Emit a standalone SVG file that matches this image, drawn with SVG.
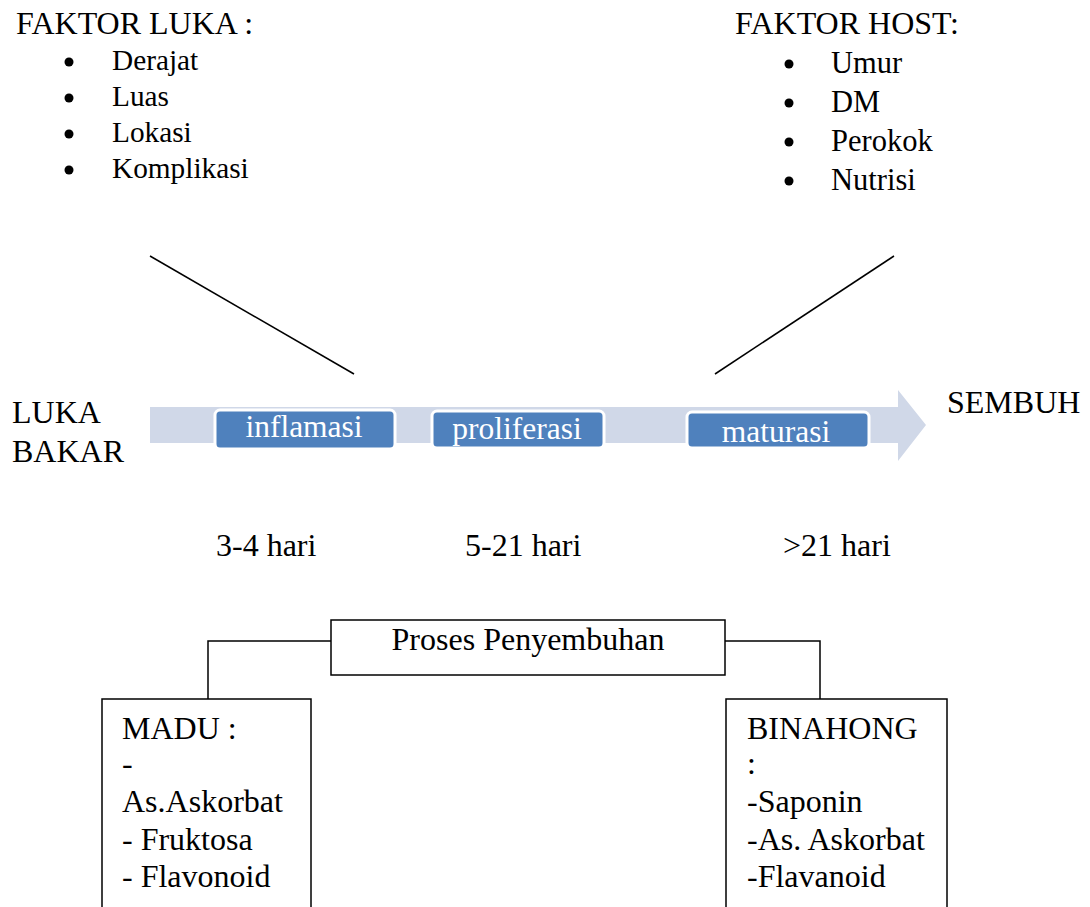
<svg xmlns="http://www.w3.org/2000/svg" width="1090" height="907" viewBox="0 0 1090 907">
<style>
.t{font-family:"Liberation Serif","Times New Roman",serif;font-size:32px;fill:#000}
.tl{font-family:"Liberation Serif","Times New Roman",serif;font-size:29.3px;fill:#000}
.tr{font-family:"Liberation Serif","Times New Roman",serif;font-size:30.5px;fill:#000}
.tc{font-family:"Liberation Serif","Times New Roman",serif;font-size:31.5px;fill:#fff;text-anchor:middle}
.chev{fill:#4f81bd;stroke:#fff;stroke-width:3}
.box{fill:#fff;stroke:#000;stroke-width:1.5}
.ln{fill:none;stroke:#000;stroke-width:1.5}
</style>
<rect width="1090" height="907" fill="#fff"/>
<g id="faktor-luka">
<text class="t" x="16" y="34">FAKTOR LUKA :</text>
<circle cx="69" cy="62" r="4.5"/><text class="tl" x="112" y="70">Derajat</text>
<circle cx="69" cy="98" r="4.5"/><text class="tl" x="112" y="106">Luas</text>
<circle cx="69" cy="134" r="4.5"/><text class="tl" x="112" y="142">Lokasi</text>
<circle cx="69" cy="170" r="4.5"/><text class="tl" x="112" y="178">Komplikasi</text>
</g>
<g id="faktor-host">
<text class="t" x="735" y="34">FAKTOR HOST:</text>
<circle cx="789" cy="64" r="4.5"/><text class="tr" x="831" y="73">Umur</text>
<circle cx="789" cy="103" r="4.5"/><text class="tr" x="831" y="112">DM</text>
<circle cx="789" cy="142" r="4.5"/><text class="tr" x="831" y="151">Perokok</text>
<circle cx="789" cy="181" r="4.5"/><text class="tr" x="831" y="190">Nutrisi</text>
</g>
<g id="connectors">
<line class="ln" x1="150" y1="256" x2="354" y2="374"/>
<line class="ln" x1="894" y1="256" x2="715" y2="374"/>
<polyline class="ln" points="331,641 208,641 208,699"/>
<polyline class="ln" points="725,641 820,641 820,699"/>
</g>
<g id="luka-bakar">
<text class="t" x="12" y="423">LUKA</text>
<text class="t" x="12" y="462">BAKAR</text>
</g>
<g id="process-arrow">
<polygon points="150,407 898,407 898,390 926,425 898,461 898,443 150,443" fill="#d0d8e8"/>
</g>
<g id="inflamasi">
<rect class="chev" x="215" y="410" width="180" height="39" rx="5"/>
<text class="tc" x="304" y="437">inflamasi</text>
</g>
<g id="proliferasi">
<rect class="chev" x="432" y="411" width="172" height="37" rx="5"/>
<text class="tc" x="517" y="439">proliferasi</text>
</g>
<g id="maturasi">
<rect class="chev" x="687" y="412" width="182" height="36" rx="5"/>
<text class="tc" x="776" y="442">maturasi</text>
</g>
<g id="sembuh">
<text class="t" x="947" y="413">SEMBUH</text>
</g>
<g id="durations">
<text class="t" x="216" y="556">3-4 hari</text>
<text class="t" x="465" y="556">5-21 hari</text>
<text class="t" x="783" y="556">&gt;21 hari</text>
</g>
<g id="proses">
<rect class="box" x="331" y="620" width="394" height="55"/>
<text class="t" x="528" y="650" text-anchor="middle">Proses Penyembuhan</text>
</g>
<g id="madu">
<rect class="box" x="102" y="699" width="209" height="220"/>
<text class="t" x="122" y="739">MADU :</text>
<text class="t" x="122" y="774">-</text>
<text class="t" x="122" y="812">As.Askorbat</text>
<text class="t" x="122" y="850">- Fruktosa</text>
<text class="t" x="122" y="887">- Flavonoid</text>
</g>
<g id="binahong">
<rect class="box" x="726" y="699" width="221" height="220"/>
<text class="t" x="747" y="739">BINAHONG</text>
<text class="t" x="747" y="774">:</text>
<text class="t" x="747" y="812">-Saponin</text>
<text class="t" x="747" y="850">-As. Askorbat</text>
<text class="t" x="747" y="887">-Flavanoid</text>
</g>
</svg>
